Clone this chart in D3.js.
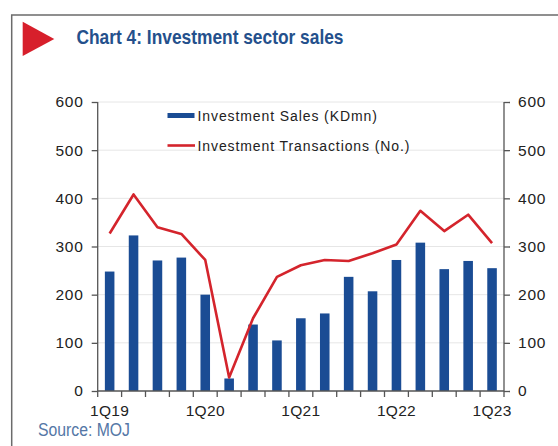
<!DOCTYPE html>
<html>
<head>
<meta charset="utf-8">
<script src="https://cdn.jsdelivr.net/npm/d3@7"></script>
<style>
  body { margin: 0; background: #fff; }
  svg { display: block; }
</style>
</head>
<body>
<div id="chart"></div>
<script>
// quarters and values
var quarters = ["1Q19","2Q19","3Q19","4Q19","1Q20","2Q20","3Q20","4Q20",
                "1Q21","2Q21","3Q21","4Q21","1Q22","2Q22","3Q22","4Q22","1Q23"];
var sales = [248, 323, 271, 277, 200, 26, 138, 105, 151, 161, 237, 207, 272, 308, 253, 270, 255];
var transactions = [327, 408, 340, 326, 272, 28, 151, 237, 261, 272, 270, 286, 304, 374, 332, 366, 307];
var yTicks = [0, 100, 200, 300, 400, 500, 600];
var xLabels = ["1Q19","1Q20","1Q21","1Q22","1Q23"];

var W = 558, H = 446;
var m = {top: 102, right: 54, bottom: 55, left: 97.7};

var svg = d3.select("#chart").append("svg")
    .attr("width", W)
    .attr("height", H);

// frame + title
svg.append("rect")
    .attr("x", 11.7).attr("y", 15)
    .attr("width", 600).attr("height", 500)
    .attr("fill", "none")
    .attr("stroke", "#6b6b6b")
    .attr("stroke-width", 1.5);

svg.append("path")
    .attr("d", "M22.7,21.7 L54.3,39 L22.7,56 Z")
    .attr("fill", "#d71f2b");

svg.append("text")
    .attr("x", 76.5).attr("y", 43.5)
    .attr("font-family", "'Liberation Sans Narrow', 'Arial Narrow', sans-serif")
    .attr("font-weight", "bold")
    .attr("font-size", 21)
    .attr("fill", "#24508c")
    .attr("textLength", 267)
    .attr("lengthAdjust", "spacingAndGlyphs")
    .text("Chart 4: Investment sector sales");

var x = d3.scaleBand()
    .domain(quarters)
    .range([m.left, 504])
    .paddingInner(0.6)
    .paddingOuter(0.3);

var y = d3.scaleLinear().domain([0, 600]).range([391, 102]);

var g = svg.append("g");

// gridlines
g.selectAll(".grid")
  .data(yTicks.slice(1))
  .enter().append("line")
    .attr("x1", m.left).attr("x2", 504)
    .attr("y1", function(d) { return y(d); })
    .attr("y2", function(d) { return y(d); })
    .attr("stroke", "#e6e6e6")
    .attr("stroke-width", 1);

// bars
g.selectAll(".bar")
  .data(sales)
  .enter().append("rect")
    .attr("class", "bar")
    .attr("x", function(d, i) { return x(quarters[i]); })
    .attr("width", x.bandwidth())
    .attr("y", function(d) { return y(d); })
    .attr("height", function(d) { return y(0) - y(d); })
    .attr("fill", "#1a4c94");

// line
var line = d3.line()
    .x(function(d, i) { return x(quarters[i]) + x.bandwidth() / 2; })
    .y(function(d) { return y(d); });

g.append("path")
    .datum(transactions)
    .attr("fill", "none")
    .attr("stroke", "#d4242c")
    .attr("stroke-width", 2.6)
    .attr("stroke-linejoin", "round")
    .attr("d", line);

var tickFont = "'Liberation Sans', Arial, sans-serif";

// left axis
var yl = svg.append("g")
    .attr("transform", "translate(" + m.left + ",0)")
    .call(d3.axisLeft(y).tickValues(yTicks).tickSize(6).tickPadding(8));
// right axis
var yr = svg.append("g")
    .attr("transform", "translate(504,0)")
    .call(d3.axisRight(y).tickValues(yTicks).tickSize(6).tickPadding(8));

[yl, yr].forEach(function(a) {
  a.select(".domain").attr("stroke", "#555").attr("stroke-width", 1.3);
  a.selectAll(".tick line").attr("stroke", "#555").attr("stroke-width", 1.3);
  a.selectAll(".tick text")
    .attr("font-family", tickFont)
    .attr("font-size", 15.5)
    .attr("letter-spacing", 0.8)
    .attr("fill", "#222");
});
yl.select(".domain").attr("d", "M0,102V391");
yr.select(".domain").attr("d", "M0,102V391");

// x axis: ticks at band boundaries, labels every 4th quarter
var step = x.step();
var x0 = x(quarters[0]) - x.paddingOuter() * step;
var xa = svg.append("g").attr("transform", "translate(0,391)");
xa.append("line")
    .attr("x1", m.left).attr("x2", 504)
    .attr("stroke", "#555").attr("stroke-width", 1.3);
xa.selectAll(".xt")
  .data(d3.range(quarters.length + 1))
  .enter().append("line")
    .attr("x1", function(i) { return x0 + i * step; })
    .attr("x2", function(i) { return x0 + i * step; })
    .attr("y1", 0).attr("y2", 6)
    .attr("stroke", "#555").attr("stroke-width", 1.3);
xa.selectAll(".xl")
  .data(xLabels)
  .enter().append("text")
    .attr("x", function(d) { return x(d) + x.bandwidth() / 2; })
    .attr("y", 24.5)
    .attr("text-anchor", "middle")
    .attr("font-family", tickFont)
    .attr("font-size", 15.5)
    .attr("letter-spacing", 0.3)
    .attr("fill", "#222")
    .text(function(d) { return d; });

// legend
var lg = svg.append("g").attr("font-family", tickFont).attr("font-size", 14)
    .attr("letter-spacing", 0.9).attr("fill", "#222");
lg.append("rect")
    .attr("x", 167.5).attr("y", 113)
    .attr("width", 27).attr("height", 5)
    .attr("fill", "#1a4c94");
lg.append("text").attr("x", 197.5).attr("y", 121).text("Investment Sales (KDmn)");
lg.append("line")
    .attr("x1", 167.5).attr("x2", 195)
    .attr("y1", 145.5).attr("y2", 145.5)
    .attr("stroke", "#d4242c").attr("stroke-width", 2.6);
lg.append("text").attr("x", 197.5).attr("y", 150.5).text("Investment Transactions (No.)");

// source
svg.append("text")
    .attr("x", 38).attr("y", 436)
    .attr("font-family", "'Liberation Sans Narrow', 'Arial Narrow', sans-serif")
    .attr("font-size", 18)
    .attr("fill", "#5477a6")
    .attr("textLength", 92)
    .attr("lengthAdjust", "spacingAndGlyphs")
    .text("Source: MOJ");
</script>
</body>
</html>
